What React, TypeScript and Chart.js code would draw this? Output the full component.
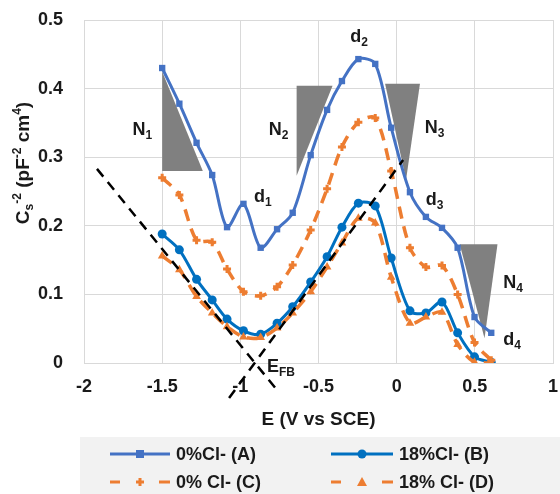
import React, { useEffect, useRef } from 'react';
import { Chart, registerables } from 'chart.js';

Chart.register(...registerables);

// ---- data ----
const potentials = [-1.5, -1.39, -1.28, -1.18, -1.085, -0.98, -0.87, -0.765, -0.665, -0.55, -0.445, -0.35, -0.245, -0.137, -0.035, 0.085, 0.187, 0.29, 0.39, 0.498, 0.605];
const seriesA = [0.430, 0.378, 0.321, 0.274, 0.198, 0.232, 0.168, 0.195, 0.219, 0.303, 0.369, 0.411, 0.443, 0.436, 0.343, 0.249, 0.213, 0.197, 0.168, 0.067, 0.044];
const seriesB = [0.188, 0.165, 0.122, 0.092, 0.064, 0.047, 0.042, 0.058, 0.082, 0.118, 0.155, 0.198, 0.233, 0.229, 0.153, 0.076, 0.073, 0.089, 0.044, 0.009, 0.001];
const seriesC = [0.270, 0.245, 0.179, 0.176, 0.137, 0.104, 0.098, 0.111, 0.143, 0.194, 0.254, 0.315, 0.351, 0.357, 0.280, 0.168, 0.140, 0.142, 0.100, 0.030, 0.004];
const seriesD = [0.156, 0.136, 0.097, 0.073, 0.053, 0.038, 0.037, 0.051, 0.073, 0.104, 0.140, 0.175, 0.211, 0.204, 0.125, 0.058, 0.067, 0.074, 0.027, 0.001, 0.000];
const seriesNames = ['0%Cl- (A)', '18%Cl- (B)', '0% Cl- (C)', '18% Cl- (D)'];
const xTickLabels = ['-2', '-1.5', '-1', '-0.5', '0', '0.5', '1'];
const yTickLabels = ['0', '0.1', '0.2', '0.3', '0.4', '0.5'];

// annotation geometry in data units
const triangles = [
  [[-1.5, 0.425], [-1.5, 0.28], [-1.24, 0.28]],
  [[-0.64, 0.404], [-0.41, 0.404], [-0.64, 0.273]],
  [[-0.074, 0.407], [0.149, 0.407], [0.06, 0.267]],
  [[0.403, 0.173], [0.645, 0.173], [0.562, 0.036]],
];
const tangentLines = [
  [[-1.917, 0.283], [-0.767, -0.039]],
  [[-1.072, -0.051], [0.041, 0.296]],
];
const labelMain = ['N', 'd', 'N', 'd', 'N', 'd', 'N', 'd', 'E'];
const labelSub = ['1', '1', '2', '2', '3', '3', '4', '4', 'FB'];
const labelPos = [
  [-1.689, 0.332], [-0.913, 0.235], [-0.818, 0.332], [-0.297, 0.468],
  [0.180, 0.335], [0.186, 0.230], [0.682, 0.109], [0.682, 0.026], [-0.830, -0.013],
];

const FONT = '"Liberation Sans", Arial, sans-serif';
const TXT = '#1a1a1a';
const BLUE_A = '#4472C4';
const BLUE_B = '#0070C0';
const ORANGE = '#ED7D31';

const toXY = (ys: number[]) => ys.map((v, i) => ({ x: potentials[i], y: v }));

function drawRich(ctx: CanvasRenderingContext2D, parts: { t: string; s: number; dy: number }[], x: number, y: number, center = false) {
  let total = 0;
  for (const p of parts) {
    ctx.font = `bold ${p.s}px ${FONT}`;
    total += ctx.measureText(p.t).width;
  }
  let cx = center ? x - total / 2 : x;
  for (const p of parts) {
    ctx.font = `bold ${p.s}px ${FONT}`;
    ctx.fillText(p.t, cx, y + p.dy);
    cx += ctx.measureText(p.t).width;
  }
}

const annotPlugin = {
  id: 'annot',
  beforeDatasetsDraw(chart: any) {
    const { ctx, scales } = chart;
    const { x, y } = scales;
    ctx.save();
    ctx.fillStyle = '#808080';
    for (const tri of triangles) {
      ctx.beginPath();
      tri.forEach(([vx, vy], i) => {
        const px = x.getPixelForValue(vx);
        const py = y.getPixelForValue(vy);
        if (i === 0) ctx.moveTo(px, py); else ctx.lineTo(px, py);
      });
      ctx.closePath();
      ctx.fill();
    }
    ctx.restore();
  },
  afterDatasetsDraw(chart: any) {
    const { ctx, scales } = chart;
    const { x, y } = scales;
    ctx.save();
    ctx.strokeStyle = '#000';
    ctx.lineWidth = 2.5;
    ctx.setLineDash([10, 7]);
    for (const ln of tangentLines) {
      ctx.beginPath();
      ctx.moveTo(x.getPixelForValue(ln[0][0]), y.getPixelForValue(ln[0][1]));
      ctx.lineTo(x.getPixelForValue(ln[1][0]), y.getPixelForValue(ln[1][1]));
      ctx.stroke();
    }
    ctx.restore();
  },
  afterDraw(chart: any) {
    const { ctx, scales, chartArea } = chart;
    const { x, y } = scales;
    ctx.save();
    ctx.fillStyle = TXT;
    ctx.textBaseline = 'alphabetic';
    ctx.textAlign = 'left';
    // point labels
    labelPos.forEach(([vx, vy], i) => {
      const px = x.getPixelForValue(vx);
      const py = y.getPixelForValue(vy);
      drawRich(ctx, [{ t: labelMain[i], s: 18, dy: 0 }, { t: labelSub[i], s: 12, dy: 4 }], px, py);
    });
    // x title
    drawRich(ctx, [{ t: 'E (V vs SCE)', s: 19, dy: 0 }], (chartArea.left + chartArea.right) / 2, 425, true);
    // y title
    ctx.save();
    ctx.translate(29, 163);
    ctx.rotate(-Math.PI / 2);
    drawRich(ctx, [
      { t: 'C', s: 19, dy: 0 },
      { t: 's', s: 12, dy: 4 },
      { t: '-2', s: 12, dy: -8 },
      { t: ' (pF', s: 19, dy: 0 },
      { t: '-2', s: 12, dy: -8 },
      { t: ' cm', s: 19, dy: 0 },
      { t: '4', s: 12, dy: -8 },
      { t: ')', s: 19, dy: 0 },
    ], 0, 0, true);
    ctx.restore();

    // legend
    ctx.fillStyle = '#F2F2F2';
    ctx.fillRect(80, 437, 480, 57);
    const items = [
      { x1: 110, x2: 170, y: 454, color: BLUE_A, dash: false, marker: 'rect' },
      { x1: 331, x2: 393, y: 454, color: BLUE_B, dash: false, marker: 'circle' },
      { x1: 110, x2: 170, y: 482, color: ORANGE, dash: true, marker: 'cross' },
      { x1: 331, x2: 393, y: 482, color: ORANGE, dash: true, marker: 'triangle' },
    ];
    items.forEach((it, i) => {
      ctx.strokeStyle = it.color;
      ctx.fillStyle = it.color;
      ctx.lineWidth = 3;
      ctx.lineCap = 'butt';
      ctx.beginPath();
      if (it.dash) {
        ctx.moveTo(it.x1, it.y); ctx.lineTo(it.x1 + 10, it.y);
        ctx.moveTo(it.x2 - 11, it.y); ctx.lineTo(it.x2, it.y);
      } else {
        ctx.moveTo(it.x1, it.y); ctx.lineTo(it.x2, it.y);
      }
      ctx.stroke();
      const mx = (it.x1 + it.x2) / 2;
      if (it.marker === 'rect') ctx.fillRect(mx - 4, it.y - 4, 8, 8);
      if (it.marker === 'circle') { ctx.beginPath(); ctx.arc(mx, it.y, 4.5, 0, Math.PI * 2); ctx.fill(); }
      if (it.marker === 'cross') {
        ctx.lineWidth = 3;
        ctx.beginPath();
        ctx.moveTo(mx - 4, it.y); ctx.lineTo(mx + 4, it.y);
        ctx.moveTo(mx, it.y - 4); ctx.lineTo(mx, it.y + 4);
        ctx.stroke();
      }
      if (it.marker === 'triangle') {
        ctx.beginPath();
        ctx.moveTo(mx, it.y - 5); ctx.lineTo(mx + 5, it.y + 4); ctx.lineTo(mx - 5, it.y + 4);
        ctx.closePath(); ctx.fill();
      }
      ctx.fillStyle = TXT;
      ctx.textBaseline = 'middle';
      ctx.font = `bold 18px ${FONT}`;
      ctx.fillText(seriesNames[i], it.x2 + 6, it.y + 1);
    });
    ctx.restore();
  },
};

export default function App() {
  const ref = useRef<HTMLCanvasElement | null>(null);
  useEffect(() => {
    document.body.style.margin = '0';
    if (!ref.current) return;
    const tickFont = { family: FONT, size: 18, weight: 'bold' as const };
    const chart = new Chart(ref.current, {
      type: 'line',
      data: {
        datasets: [
          { label: seriesNames[0], data: toXY(seriesA), borderColor: BLUE_A, backgroundColor: BLUE_A, borderWidth: 3, pointStyle: 'rect', pointRadius: 4.5, pointBorderWidth: 0, tension: 0.3, order: 4 },
          { label: seriesNames[1], data: toXY(seriesB), borderColor: BLUE_B, backgroundColor: BLUE_B, borderWidth: 3, pointStyle: 'circle', pointRadius: 4.5, pointBorderWidth: 0, tension: 0.3, order: 3 },
          { label: seriesNames[2], data: toXY(seriesC), borderColor: ORANGE, backgroundColor: ORANGE, borderWidth: 3.5, borderDash: [12, 8], pointStyle: 'cross', pointRadius: 4, pointBorderWidth: 3, tension: 0.3, order: 2 },
          { label: seriesNames[3], data: toXY(seriesD), borderColor: ORANGE, backgroundColor: ORANGE, borderWidth: 3.5, borderDash: [12, 8], pointStyle: 'triangle', pointRadius: 5, pointBorderWidth: 0, tension: 0.3, order: 1 },
        ],
      },
      options: {
        responsive: false,
        animation: false,
        events: [],
        layout: { padding: { left: 0, right: 4, top: 20, bottom: 56 } },
        plugins: { legend: { display: false }, tooltip: { enabled: false } },
        scales: {
          x: {
            type: 'linear',
            min: -2,
            max: 1,
            afterFit: (s: any) => { s.height = 75; s.paddingLeft = 0; s.paddingRight = 0; },
            grid: { color: '#D9D9D9', drawTicks: false, lineWidth: 1 },
            border: { color: '#D9D9D9' },
            ticks: { stepSize: 0.5, font: tickFont, color: TXT, padding: 13, callback: (_v: any, i: number) => xTickLabels[i] },
          },
          y: {
            min: 0,
            max: 0.5,
            afterFit: (s: any) => { s.width = 84; s.paddingTop = 0; s.paddingBottom = 0; },
            grid: { color: '#D9D9D9', drawTicks: false, lineWidth: 1 },
            border: { color: '#D9D9D9' },
            ticks: { stepSize: 0.1, font: tickFont, color: TXT, padding: 21, callback: (_v: any, i: number) => yTickLabels[i] },
          },
        },
      },
      plugins: [annotPlugin],
    });
    return () => chart.destroy();
  }, []);
  return (
    <div style={{ width: 560, height: 494 }}>
      <canvas ref={ref} width={560} height={494} />
    </div>
  );
}
